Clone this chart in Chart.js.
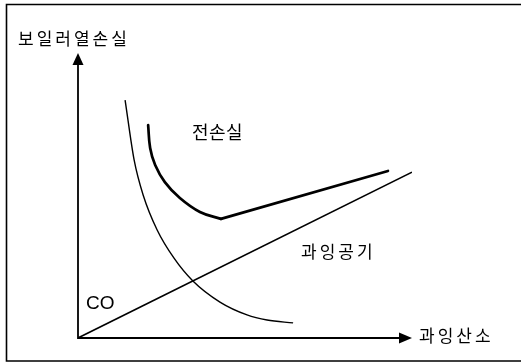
<!DOCTYPE html>
<html>
<head>
<meta charset="utf-8">
<script src="https://cdn.jsdelivr.net/npm/chart.js@4/dist/chart.umd.min.js"></script>
<style>
html,body{margin:0;padding:0;background:#fff;}
canvas{display:block;}
</style>
</head>
<body>
<canvas id="c" width="521" height="363"></canvas>
<script>
// Schematic values (arbitrary units: excess O2 0..10, loss 0..10)
const coLossX = [1.41, 1.68, 1.95, 2.37, 2.87, 3.44, 4.25, 5.06, 5.66, 6.44];
const coLossY = [8.35, 6.25, 5.02, 3.79, 2.81, 2.00, 1.26, 0.81, 0.63, 0.53];
const excessAirX = [0, 10];
const excessAirY = [0, 5.82];
const totalCurveX = [2.10, 2.16, 2.31, 2.60, 3.05, 3.65, 4.28];
const totalCurveY = [7.47, 6.67, 6.07, 5.47, 4.91, 4.42, 4.18];
const totalLinearX = [4.28, 9.28];
const totalLinearY = [4.18, 5.86];
const axisTitleY = '보일러열손실';
const axisTitleX = '과잉산소';
const labelTotal = '전손실';
const labelExcessAir = '과잉공기';
const labelCO = 'CO';

const pts = (xs, ys) => xs.map((x, i) => ({x, y: ys[i]}));

const overlay = {
  id: 'overlay',
  beforeDraw(chart) {
    const ctx = chart.ctx;
    ctx.save();
    ctx.fillStyle = '#fff';
    ctx.fillRect(0, 0, chart.width, chart.height);
    ctx.restore();
  },
  afterDatasetsDraw(chart) {
    const ctx = chart.ctx;
    const xs = chart.scales.x, ys = chart.scales.y;
    const ox = xs.getPixelForValue(0), oy = ys.getPixelForValue(0);
    const xe = xs.getPixelForValue(10), ye = ys.getPixelForValue(10);
    ctx.save();
    // frame
    ctx.strokeStyle = '#000';
    ctx.lineWidth = 1.6;
    ctx.beginPath();
    ctx.moveTo(540, 4.5);
    ctx.lineTo(6.5, 4.5);
    ctx.lineTo(6.5, 361);
    ctx.lineTo(540, 361);
    ctx.stroke();
    // axes
    ctx.lineWidth = 1.8;
    ctx.beginPath();
    ctx.moveTo(ox, ye + 10);
    ctx.lineTo(ox, oy);
    ctx.lineTo(xe - 10, oy);
    ctx.stroke();
    ctx.fillStyle = '#000';
    ctx.beginPath();
    ctx.moveTo(ox, ye);
    ctx.lineTo(ox - 5.5, ye + 12);
    ctx.lineTo(ox + 5.5, ye + 12);
    ctx.closePath();
    ctx.fill();
    ctx.beginPath();
    ctx.moveTo(xe, oy);
    ctx.lineTo(xe - 13, oy - 5.5);
    ctx.lineTo(xe - 13, oy + 5.5);
    ctx.closePath();
    ctx.fill();
    // texts
    ctx.textBaseline = 'middle';
    ctx.textAlign = 'left';
    ctx.font = '17px "Noto Sans CJK KR", sans-serif';
    ctx.letterSpacing = '3px';
    ctx.fillText(axisTitleY, 18, 39);
    ctx.fillText(axisTitleX, 419, 336);
    ctx.fillText(labelExcessAir, 301, 252);
    ctx.font = '18px "Noto Sans CJK KR", sans-serif';
    ctx.letterSpacing = '0.5px';
    ctx.fillText(labelTotal, 192, 132);
    ctx.letterSpacing = '0px';
    ctx.font = '19px "Liberation Sans", Arial, sans-serif';
    ctx.fillText(labelCO, 86, 304);
    ctx.restore();
  }
};

new Chart(document.getElementById('c'), {
  type: 'scatter',
  data: {
    datasets: [
      {data: pts(coLossX, coLossY), showLine: true, borderColor: '#000', borderWidth: 1.4, pointRadius: 0, cubicInterpolationMode: 'monotone'},
      {data: pts(excessAirX, excessAirY), showLine: true, borderColor: '#000', borderWidth: 1.6, pointRadius: 0},
      {data: pts(totalCurveX, totalCurveY), showLine: true, borderColor: '#000', borderWidth: 2.7, pointRadius: 0, tension: 0.4, borderCapStyle: 'round'},
      {data: pts(totalLinearX, totalLinearY), showLine: true, borderColor: '#000', borderWidth: 2.7, pointRadius: 0, borderCapStyle: 'round'}
    ]
  },
  options: {
    responsive: false,
    animation: false,
    devicePixelRatio: 1,
    layout: {padding: {left: 78, right: 109, top: 53, bottom: 25}},
    plugins: {legend: {display: false}, tooltip: {enabled: false}},
    scales: {
      x: {type: 'linear', min: 0, max: 10, display: false},
      y: {type: 'linear', min: 0, max: 10, display: false}
    }
  },
  plugins: [overlay]
});
</script>
</body>
</html>
